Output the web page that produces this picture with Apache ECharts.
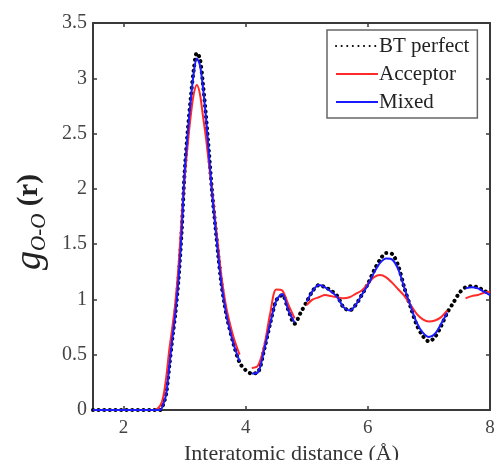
<!DOCTYPE html>
<html>
<head>
<meta charset="utf-8">
<script src="https://cdn.jsdelivr.net/npm/echarts@6/dist/echarts.min.js"></script>
<style>html,body{margin:0;padding:0;background:#fff;}#c{width:497px;height:460px;}</style>
</head>
<body>
<div id="c"></div>
<script>
// Interatomic distance (Å)
var xs = [1.5, 2.0, 2.5, 2.6, 2.65, 2.7, 2.75, 2.8, 2.85, 2.9, 2.95, 3.0, 3.05, 3.1, 3.15, 3.2, 3.25, 3.3, 3.35, 3.4, 3.45, 3.5, 3.55, 3.6, 3.65, 3.7, 3.8, 3.9, 4.0, 4.1, 4.2, 4.3, 4.4, 4.5, 4.6, 4.7, 4.8, 4.9, 5.0, 5.1, 5.2, 5.3, 5.4, 5.5, 5.6, 5.7, 5.8, 5.9, 6.0, 6.1, 6.2, 6.3, 6.4, 6.5, 6.6, 6.7, 6.8, 6.9, 7.0, 7.1, 7.2, 7.3, 7.4, 7.5, 7.6, 7.7, 7.8, 7.9, 8.0];
var btPerfect = [0, 0, 0, 0.0, 0.05, 0.15, 0.4, 0.65, 0.88, 1.18, 1.6, 2.15, 2.52, 2.82, 3.08, 3.23, 3.18, 2.95, 2.66, 2.32, 1.97, 1.68, 1.4, 1.15, 0.97, 0.82, 0.6, 0.43, 0.36, 0.33, 0.34, 0.54, 0.78, 0.99, 1.04, 0.9, 0.78, 0.88, 0.98, 1.08, 1.13, 1.11, 1.08, 1.03, 0.93, 0.9, 0.95, 1.04, 1.14, 1.26, 1.36, 1.42, 1.41, 1.3, 1.1, 0.93, 0.77, 0.67, 0.62, 0.66, 0.76, 0.88, 0.97, 1.06, 1.11, 1.12, 1.11, 1.08, 1.05];
var acceptor = [0, 0, 0, 0.04, 0.12, 0.3, 0.55, 0.75, 0.98, 1.3, 1.72, 2.1, 2.4, 2.66, 2.86, 2.94, 2.86, 2.66, 2.46, 2.22, 1.98, 1.72, 1.47, 1.22, 1.03, 0.88, 0.66, 0.5, null, 0.38, 0.4, 0.57, 0.87, 1.09, 1.08, 0.95, 0.83, null, 0.95, 1.0, 1.02, 1.04, 1.03, 1.02, 1.01, 1.02, 1.05, 1.08, 1.14, 1.2, 1.22, 1.2, 1.15, 1.09, 1.03, 0.95, 0.87, 0.82, 0.8, 0.81, 0.84, 0.9, null, null, 1.01, 1.03, 1.04, 1.06, 1.07];
var mixed = [0, 0, 0, 0.0, 0.05, 0.15, 0.4, 0.65, 0.88, 1.18, 1.6, 2.15, 2.5, 2.8, 3.05, 3.18, 3.12, 2.92, 2.64, 2.3, 1.96, 1.68, 1.4, 1.15, 0.97, 0.82, 0.6, 0.44, null, 0.33, 0.34, 0.54, 0.78, 0.99, 1.05, 0.9, 0.79, null, 0.98, 1.08, 1.13, 1.11, 1.07, 1.02, 0.93, 0.9, 0.95, 1.04, 1.13, 1.24, 1.33, 1.37, 1.36, 1.27, 1.1, 0.94, 0.79, 0.7, 0.66, 0.69, 0.78, 0.88, null, null, 1.1, 1.11, 1.1, 1.07, 1.04];
var seriesNames = ['BT perfect', 'Acceptor', 'Mixed'];
var xTickValues = [2, 4, 6, 8];
var yMin = 0, yMax = 3.5, yStep = 0.5;

function pairs(ys) {
  return xs.map(function (x, i) { return [x, ys[i] === null ? '-' : ys[i]]; });
}

var serif = '"Liberation Serif", "DejaVu Serif", serif';
var axisCol = '#3a3a3a';
var chart = echarts.init(document.getElementById('c'), null, { renderer: 'canvas' });

var baseX = {
  type: 'value', min: 1.5, max: 8,
  axisLine: { show: true, onZero: false, lineStyle: { color: axisCol, width: 2 } },
  axisTick: { show: true, inside: true, length: 4, customValues: xTickValues, lineStyle: { color: axisCol, width: 1.5 } },
  splitLine: { show: false }
};
var baseY = {
  type: 'value', min: yMin, max: yMax, interval: yStep,
  axisLine: { show: true, onZero: false, lineStyle: { color: axisCol, width: 2 } },
  axisTick: { show: true, inside: true, length: 4, lineStyle: { color: axisCol, width: 1.5 } },
  splitLine: { show: false }
};

chart.setOption({
  backgroundColor: '#fff',
  animation: false,
  grid: { left: 93, right: 7, top: 23, bottom: 50, containLabel: false, outerBoundsMode: 'none' },
  xAxis: [
    Object.assign({}, baseX, {
      position: 'bottom',
      axisLabel: { show: true, customValues: xTickValues, color: '#444', fontFamily: serif, fontSize: 19, margin: 9 },
      name: 'Interatomic distance (Å)', nameLocation: 'middle', nameGap: 25,
      nameTextStyle: { color: '#333', fontFamily: serif, fontSize: 22 }
    }),
    Object.assign({}, baseX, { position: 'top', axisLabel: { show: false } })
  ],
  yAxis: [
    Object.assign({}, baseY, {
      position: 'left',
      axisLabel: { show: true, color: '#444', fontFamily: serif, fontSize: 20, margin: 6,
        formatter: function (v) { return String(v); } }
    }),
    Object.assign({}, baseY, { position: 'right', axisLabel: { show: false } })
  ],
  legend: {
    orient: 'vertical', left: 327, top: 30,
    padding: [4, 8, 4, 8],
    itemWidth: 42, itemHeight: 14, itemGap: 4,
    itemStyle: { opacity: 0 },
    backgroundColor: '#fff', borderColor: '#666', borderWidth: 1.5, borderRadius: 0,
    textStyle: { color: '#222', fontFamily: serif, fontSize: 21, lineHeight: 24, padding: [0, 0, 0, -4] },
    data: seriesNames
  },
  graphic: [{
    type: 'text', x: 30, y: 222, rotation: Math.PI / 2,
    style: {
      text: '{g|g}{s|O-O}{r| (r)}',
      align: 'center', verticalAlign: 'middle',
      rich: {
        g: { fontFamily: serif, fontStyle: 'italic', fontSize: 38, fill: '#222', lineHeight: 40 },
        s: { fontFamily: serif, fontStyle: 'italic', fontSize: 21, fill: '#222', lineHeight: 40, padding: [18, 0, 0, 0], verticalAlign: 'bottom' },
        r: { fontFamily: serif, fontWeight: 'bold', fontSize: 29, fill: '#222', lineHeight: 40 }
      }
    }
  }],
  series: [
    {
      name: seriesNames[0], type: 'line', data: pairs(btPerfect), showSymbol: false, symbol: 'none',
      smooth: 0.3, z: 2,
      lineStyle: { color: '#000', width: 4, type: [0.1, 5.5], cap: 'round' },
      itemStyle: { color: '#000' }
    },
    {
      name: seriesNames[1], type: 'line', data: pairs(acceptor), showSymbol: false, symbol: 'none',
      smooth: 0.3, z: 3, connectNulls: false,
      lineStyle: { color: '#ff2a2a', width: 2 }, itemStyle: { color: '#ff2a2a' }
    },
    {
      name: seriesNames[2], type: 'line', data: pairs(mixed), showSymbol: false, symbol: 'none',
      smooth: 0.3, z: 4, connectNulls: false,
      lineStyle: { color: '#1a1aff', width: 2 }, itemStyle: { color: '#1a1aff' }
    }
  ]
});
</script>
</body>
</html>
